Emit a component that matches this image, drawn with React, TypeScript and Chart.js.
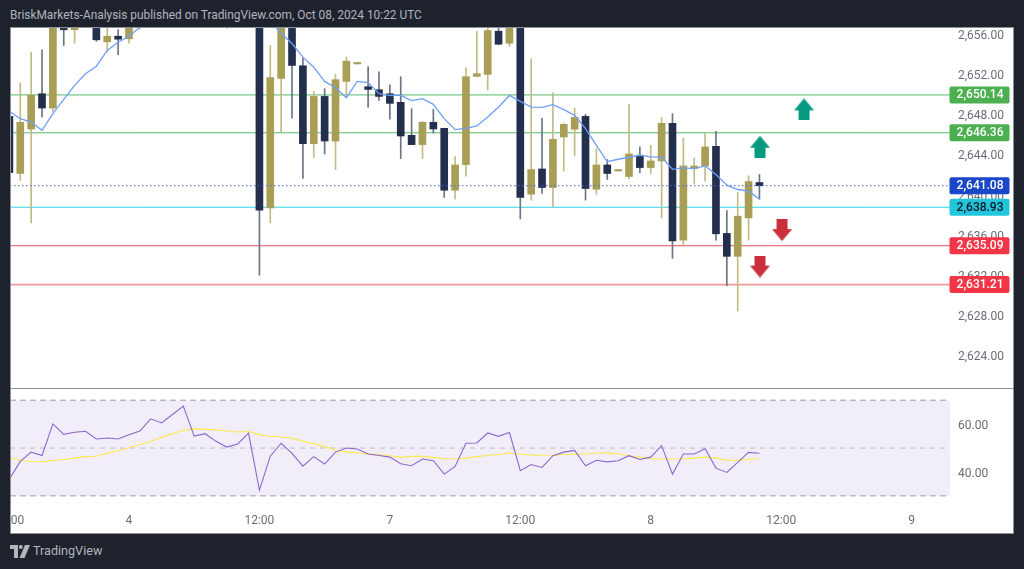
import React, { useEffect, useRef } from "react";
import { Chart, registerables } from "chart.js";

Chart.register(...registerables);

const titleText = "BriskMarkets-Analysis published on TradingView.com, Oct 08, 2024 10:22 UTC";

const opens = [2648.00, 2642.30, 2646.74, 2650.26, 2648.83, 2658.67, 2656.64, 2657.67, 2658.17, 2655.44, 2656.00, 2655.74, 2657.37, 2657.77, 2659.77, 2658.77, 2660.17, 2661.37, 2660.17, 2661.67, 2659.37, 2657.97, 2659.37, 2660.57, 2638.87, 2651.79, 2657.77, 2653.05, 2645.28, 2649.99, 2645.54, 2651.49, 2653.23, 2650.96, 2650.66, 2650.26, 2649.40, 2646.11, 2645.18, 2647.41, 2646.81, 2640.63, 2643.19, 2651.99, 2652.19, 2656.50, 2655.30, 2658.17, 2640.23, 2642.75, 2640.90, 2645.94, 2646.71, 2648.00, 2640.73, 2643.15, 2642.55, 2642.00, 2644.12, 2642.89, 2643.55, 2647.31, 2635.65, 2642.79, 2643.05, 2645.01, 2636.32, 2634.03, 2637.87, 2641.40];
const closes = [2642.39, 2647.41, 2650.12, 2648.83, 2659.17, 2656.64, 2658.17, 2658.57, 2655.64, 2656.00, 2655.70, 2657.37, 2658.17, 2659.17, 2658.57, 2660.37, 2661.17, 2660.17, 2661.77, 2659.17, 2657.77, 2659.57, 2660.57, 2638.64, 2651.86, 2657.77, 2653.08, 2645.28, 2649.99, 2645.54, 2651.66, 2653.51, 2653.38, 2650.69, 2649.99, 2649.30, 2646.04, 2645.18, 2647.41, 2646.74, 2640.63, 2643.15, 2651.96, 2652.26, 2656.57, 2655.20, 2657.77, 2639.91, 2642.69, 2640.90, 2645.71, 2647.21, 2647.90, 2640.80, 2643.15, 2642.30, 2642.69, 2644.25, 2642.89, 2643.55, 2647.31, 2635.58, 2643.05, 2643.05, 2644.95, 2636.28, 2634.03, 2638.04, 2641.50, 2641.08];
const highs = [2648.17, 2651.36, 2654.41, 2654.65, 2660.17, 2659.17, 2658.77, 2659.17, 2658.47, 2657.57, 2656.67, 2657.97, 2658.67, 2659.77, 2660.17, 2660.97, 2661.67, 2662.07, 2662.37, 2662.17, 2659.97, 2660.17, 2661.17, 2661.17, 2655.07, 2658.17, 2658.17, 2653.85, 2650.49, 2650.76, 2652.19, 2653.91, 2653.38, 2652.98, 2652.45, 2651.16, 2651.96, 2648.77, 2647.47, 2648.70, 2646.81, 2643.99, 2652.85, 2656.47, 2657.57, 2657.57, 2658.17, 2658.57, 2653.75, 2647.80, 2650.36, 2647.28, 2648.83, 2648.20, 2644.79, 2643.69, 2642.69, 2649.20, 2644.95, 2645.11, 2647.90, 2648.27, 2645.84, 2643.85, 2646.34, 2646.51, 2638.61, 2640.40, 2642.06, 2642.20];
const lows = [2642.39, 2641.60, 2637.37, 2647.93, 2648.50, 2655.07, 2655.30, 2657.17, 2655.50, 2654.41, 2654.15, 2655.30, 2656.74, 2657.37, 2658.17, 2658.37, 2659.77, 2659.57, 2659.87, 2658.47, 2656.82, 2657.47, 2658.97, 2632.14, 2637.37, 2646.44, 2647.83, 2641.80, 2643.89, 2644.25, 2642.69, 2649.92, 2653.23, 2648.93, 2649.60, 2647.73, 2643.79, 2645.18, 2643.79, 2646.34, 2639.91, 2639.74, 2642.03, 2651.99, 2650.62, 2655.14, 2655.00, 2637.77, 2639.64, 2640.30, 2638.97, 2642.55, 2644.05, 2639.64, 2640.23, 2641.70, 2642.55, 2641.73, 2642.39, 2642.30, 2637.87, 2633.83, 2635.15, 2641.30, 2641.53, 2635.65, 2631.10, 2628.58, 2635.65, 2639.74];
const movingAverage = [2648.50, 2647.77, 2647.43, 2646.61, 2648.27, 2649.70, 2651.09, 2652.26, 2653.01, 2654.58, 2655.40, 2656.00, 2656.90, 2657.6, 2658.2, 2658.8, 2659.3, 2659.7, 2660.1, 2660.4, 2660.7, 2660.8, 2660.4, 2658.8, 2657.6, 2656.27, 2655.27, 2653.91, 2652.91, 2651.49, 2650.86, 2649.87, 2651.49, 2651.36, 2650.26, 2650.09, 2650.09, 2649.57, 2649.77, 2649.20, 2647.77, 2646.68, 2646.81, 2647.04, 2647.93, 2648.93, 2650.09, 2649.50, 2648.93, 2648.90, 2649.17, 2648.67, 2648.10, 2646.78, 2645.11, 2643.49, 2643.72, 2643.92, 2644.12, 2643.95, 2643.92, 2642.72, 2642.85, 2642.79, 2643.05, 2642.20, 2641.13, 2640.70, 2640.53, 2639.74];
const rsi = [37.0, 44.4, 48.3, 46.9, 60.1, 55.7, 56.6, 57.0, 53.8, 54.2, 53.8, 55.6, 57.1, 62.2, 60.5, 64.0, 67.5, 55.0, 56.0, 52.8, 50.4, 51.7, 56.2, 32.4, 46.6, 52.0, 47.8, 42.4, 46.4, 43.3, 48.3, 50.0, 49.6, 47.5, 46.9, 46.2, 43.4, 42.6, 45.4, 44.7, 39.1, 42.3, 52.0, 52.1, 56.3, 54.9, 56.5, 40.5, 43.1, 41.9, 46.8, 48.3, 49.0, 42.6, 44.9, 44.2, 44.7, 46.8, 45.2, 46.2, 51.0, 39.1, 47.5, 47.5, 49.7, 41.6, 39.8, 44.0, 48.2, 47.8];
const rsiAverage = [46.1, 44.8, 44.4, 44.3, 44.8, 45.2, 45.8, 46.4, 46.6, 47.8, 48.9, 50.1, 51.4, 52.8, 54.5, 56.0, 57.4, 58.0, 57.8, 57.6, 57.1, 56.7, 56.9, 55.5, 54.9, 54.6, 54.1, 52.9, 51.8, 50.6, 49.2, 48.3, 48.0, 47.5, 47.2, 46.8, 46.1, 46.6, 46.5, 46.1, 45.5, 45.4, 45.8, 46.4, 46.9, 47.3, 47.9, 47.3, 47.1, 46.8, 46.9, 47.3, 47.5, 47.5, 47.9, 48.0, 47.6, 46.8, 46.1, 45.5, 45.4, 45.4, 45.5, 45.8, 46.2, 45.9, 44.9, 44.9, 45.4, 45.5];

const levelPrices = [2650.14, 2646.36, 2641.08, 2638.93, 2635.09, 2631.21];
const levelLabels = ["2,650.14", "2,646.36", "2,641.08", "2,638.93", "2,635.09", "2,631.21"];
const levelColors = ["rgb(85,185,106)", "rgb(85,185,106)", "rgb(70,100,220)", "rgb(45,213,230)", "rgb(230,80,92)", "rgb(247,149,158)"];
const tagColors = ["#4caf50", "#4caf50", "#1a46c8", "#22c6dc", "#f23645", "#f23645"];
const tagTextColors = ["#ffffff", "#ffffff", "#ffffff", "#131722", "#ffffff", "#ffffff"];
const levelWidths = [1, 1, 1, 1, 1, 1.6];

const arrowIndex = [73.1, 69.05, 71.08, 69.05];
const arrowPrice = [2648.70, 2644.97, 2636.65, 2633.01];
const arrowUp = [true, true, false, false];

const timeTickIndex = [0, 11, 23, 35, 47, 59, 71, 83];
const timeTickLabels = ["12:00", "4", "12:00", "7", "12:00", "8", "12:00", "9"];
const rsiBands = [70, 50, 30];

const X_MIN = 0.055;
const X_MAX = 86.53;
const GOLD = "#a99e55";
const NAVY = "#232f4d";
const FONT = "Roboto";

function arrowImage(up: boolean, color: string) {
  const c = document.createElement("canvas");
  c.width = 21;
  c.height = 22;
  const g = c.getContext("2d")!;
  g.fillStyle = color;
  g.beginPath();
  if (up) {
    g.moveTo(10.5, 0); g.lineTo(20.5, 12); g.lineTo(16, 12); g.lineTo(16, 22); g.lineTo(5, 22); g.lineTo(5, 12); g.lineTo(0.5, 12);
  } else {
    g.moveTo(10.5, 22); g.lineTo(20.5, 10); g.lineTo(16, 10); g.lineTo(16, 0); g.lineTo(5, 0); g.lineTo(5, 10); g.lineTo(0.5, 10);
  }
  g.closePath();
  g.fill();
  return c;
}

const overlay = {
  id: "overlay",
  afterDraw(chart: any) {
    const { ctx, width, height, scales } = chart;
    const y = scales.y;
    ctx.save();
    // price tags
    ctx.font = `500 12px ${FONT}`;
    ctx.textBaseline = "middle";
    ctx.textAlign = "right";
    levelPrices.forEach((p, i) => {
      const py = y.getPixelForValue(p);
      ctx.fillStyle = tagColors[i];
      ctx.beginPath();
      ctx.roundRect(939.5, py - 8.5, 60, 17, 2);
      ctx.fill();
      ctx.fillStyle = tagTextColors[i];
      ctx.fillText(levelLabels[i], 993.5, py + 0.5);
    });
    // pane separator and frame
    ctx.strokeStyle = "#8d9099";
    ctx.lineWidth = 1;
    ctx.beginPath();
    ctx.moveTo(0, Math.round(y.bottom) + 0.5);
    ctx.lineTo(width, Math.round(y.bottom) + 0.5);
    ctx.stroke();
    ctx.strokeRect(0.5, 0.5, width - 1, height - 1);
    ctx.restore();
  },
};

export default function App() {
  const ref = useRef<HTMLCanvasElement>(null);

  useEffect(() => {
    const idx = opens.map((_, i) => i);
    const colors = idx.map((i) => (closes[i] >= opens[i] ? GOLD : NAVY));
    const flat = (v: number) => [{ x: X_MIN, y: v }, { x: X_MAX, y: v }];

    const datasets: any[] = [
      // RSI band
      {
        type: "line", yAxisID: "rsiAxis", data: flat(rsiBands[0]), borderWidth: 0, pointRadius: 0,
        backgroundColor: "rgba(126,87,194,0.1)", fill: { value: rsiBands[2] }, order: 20,
      },
      ...rsiBands.map((b, i) => ({
        type: "line", yAxisID: "rsiAxis", data: flat(b), borderColor: i === 1 ? "#bcbcc2" : "#9c9ca6",
        borderWidth: 1, borderDash: i === 1 ? [5, 5] : [6, 4], pointRadius: 0, order: 19,
      })),
      {
        type: "line", yAxisID: "rsiAxis", data: idx.map((i) => ({ x: i, y: rsiAverage[i] })),
        borderColor: "#fbe94c", borderWidth: 1.1, pointRadius: 0, order: 2,
      },
      {
        type: "line", yAxisID: "rsiAxis", data: idx.map((i) => ({ x: i, y: rsi[i] })),
        borderColor: "#8a67cf", borderWidth: 1.1, pointRadius: 0, order: 1,
      },
      // levels
      ...levelPrices.map((p, i) => ({
        type: "line", yAxisID: "y", data: flat(p), borderColor: levelColors[i], borderWidth: levelWidths[i],
        borderDash: i === 2 ? [1.5, 2.5] : [], pointRadius: 0, order: i === 2 ? 3 : 12,
      })),
      // candles
      {
        type: "bar", yAxisID: "y", grouped: false, data: idx.map((i) => ({ x: i, y: [lows[i], highs[i]] })),
        backgroundColor: colors.map((c) => (c === GOLD ? "#c3ba85" : "#6c7488")), maxBarThickness: 1, barPercentage: 1, categoryPercentage: 1, order: 11,
      },
      {
        type: "bar", yAxisID: "y", grouped: false, data: idx.map((i) => ({ x: i, y: [opens[i], closes[i]] })),
        backgroundColor: colors, maxBarThickness: 7, barPercentage: 1, categoryPercentage: 1, order: 10,
      },
      // moving average
      {
        type: "line", yAxisID: "y", data: idx.map((i) => ({ x: i, y: movingAverage[i] })),
        borderColor: "#6f9ffb", borderWidth: 1.3, pointRadius: 0, order: 5,
      },
      // arrows
      {
        type: "line", yAxisID: "y", showLine: false, data: arrowIndex.map((x, i) => ({ x, y: arrowPrice[i] })),
        pointStyle: arrowUp.map((u) => arrowImage(u, u ? "#089981" : "#cc2f3c")), pointRadius: 10, order: 4,
      },
    ];

    const axisFit = (w: number) => (s: any) => {
      s.width = w;
      s.paddingTop = 0;
      s.paddingBottom = 0;
    };

    const chart = new Chart(ref.current!, {
      type: "bar",
      data: { datasets },
      plugins: [overlay],
      options: {
        animation: false,
        responsive: false,
        layout: { padding: 0, autoPadding: false },
        font: { family: FONT },
        plugins: { legend: { display: false }, title: { display: false }, tooltip: { enabled: false } },
        scales: {
          x: {
            type: "linear", min: X_MIN, max: X_MAX, position: "bottom", offset: false,
            grid: { display: false, offset: false, drawTicks: false }, border: { display: false },
            afterBuildTicks: (a: any) => { a.ticks = timeTickIndex.map((value) => ({ value })); },
            afterFit: (s: any) => { s.height = 24; s.paddingLeft = 0; s.paddingRight = 0; },
            ticks: {
              autoSkip: false, maxRotation: 0, padding: 4, color: "#6a6d78",
              font: { family: FONT, size: 12 },
              callback: (v: any) => timeTickLabels[timeTickIndex.indexOf(v)],
            },
          },
          y: {
            type: "linear", position: "right", stack: "panes", stackWeight: 361, weight: 0,
            min: 2620.89, max: 2656.92,
            grid: { display: false, drawTicks: false }, border: { display: false },
            afterFit: axisFit(64),
            ticks: {
              stepSize: 4, includeBounds: false, padding: 8, labelOffset: 0, color: "#6a6d78",
              font: { family: FONT, size: 12 },
              callback: (v: any) => Number(v).toLocaleString("en-US", { minimumFractionDigits: 2, maximumFractionDigits: 2 }),
            },
          },
          rsiAxis: {
            type: "linear", axis: "y", position: "right", stack: "panes", stackWeight: 122, weight: 1,
            min: 24.1, max: 75.1,
            grid: { display: false, drawTicks: false }, border: { display: false },
            afterFit: axisFit(64),
            ticks: {
              stepSize: 20, includeBounds: false, padding: 8, labelOffset: 2, color: "#6a6d78",
              font: { family: FONT, size: 12 },
              callback: (v: any) => Number(v).toFixed(2),
            },
          },
        },
      } as any,
    } as any);
    return () => chart.destroy();
  }, []);

  const logoColor = "#b2b5be";
  return (
    <div style={{ position: "fixed", left: 0, top: 0, width: 1024, height: 569, background: "#1e222d", overflow: "hidden", fontFamily: FONT }}>
      <div style={{ position: "absolute", left: 10, top: 6, fontSize: 11.9, lineHeight: "18px", color: logoColor, whiteSpace: "nowrap" }}>{titleText}</div>
      <div style={{ position: "absolute", left: 10, top: 27, width: 1004, height: 507, background: "#ffffff" }}>
        <canvas ref={ref} width={1004} height={507} style={{ display: "block" }} />
      </div>
      <svg style={{ position: "absolute", left: 10, top: 545 }} width={20} height={13} viewBox="0 0 20 13">
        <path d="M0 0H8V13H4V4H0Z" fill={logoColor} />
        <circle cx="10.8" cy="2" r="2" fill={logoColor} />
        <path d="M15 0H20L14.5 13H9.5Z" fill={logoColor} />
      </svg>
      <div style={{ position: "absolute", left: 33, top: 542, fontSize: 12.6, lineHeight: "18px", color: logoColor, whiteSpace: "nowrap" }}>TradingView</div>
    </div>
  );
}
